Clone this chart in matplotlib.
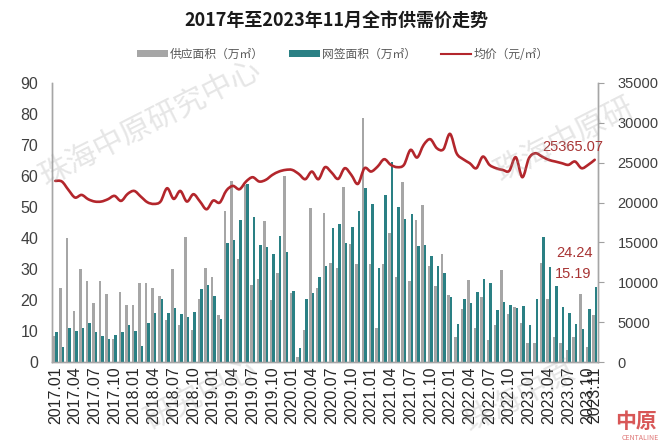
import numpy as np
import matplotlib
matplotlib.use("Agg")
import matplotlib.pyplot as plt
from matplotlib.patches import Patch, PathPatch
from matplotlib.lines import Line2D
from matplotlib.path import Path

plt.rcParams['font.family'] = ['Noto Sans CJK SC', 'DejaVu Sans']

# ---------------- data ----------------
months = [f"{y}.{m:02d}" for y in range(2017, 2024) for m in range(1, 13)][:83]

supply = [8.5, 23.8, 39.9, 16.6, 29.9, 26.2, 19.1, 26.2, 21.8, 7.5,
          22.7, 18.4, 18.4, 25.6, 25.6, 24.0, 21.4, 13.5, 30.1, 11.9,
          40.4, 10.3, 20.2, 30.3, 27.3, 15.2, 48.8, 58.5, 33.1, 57.1,
          24.8, 26.8, 45.6, 20.0, 28.6, 60.0, 22.2, 1.7, 10.3, 49.8,
          24.0, 48.0, 31.8, 30.2, 56.6, 38.1, 31.6, 78.6, 31.5, 10.9,
          31.5, 41.5, 27.5, 58.0, 26.1, 45.8, 50.5, 31.0, 24.5, 34.8,
          21.6, 8.2, 17.0, 26.5, 10.9, 20.9, 7.1, 11.9, 29.7, 15.4,
          17.8, 12.5, 6.2, 6.2, 32.0, 20.3, 8.2, 6.2, 3.9, 8.0,
          21.9, 4.9, 15.19]

signed = [9.6, 4.8, 11.0, 9.9, 11.0, 12.7, 9.6, 8.4, 7.3, 8.7,
          9.6, 11.8, 10.1, 5.2, 12.7, 15.7, 20.2, 15.7, 17.3, 15.5,
          14.4, 16.2, 23.4, 24.8, 21.3, 13.8, 38.3, 39.4, 45.8, 57.4,
          46.7, 37.6, 37.2, 34.7, 40.8, 35.5, 22.9, 4.4, 20.4, 22.2,
          27.3, 31.1, 43.1, 44.4, 38.5, 43.7, 48.8, 56.0, 50.9, 30.2,
          53.9, 64.6, 49.9, 46.0, 47.6, 37.5, 37.7, 34.3, 31.1, 28.8,
          20.9, 12.3, 20.4, 18.9, 22.5, 26.7, 25.6, 16.8, 19.5, 18.4,
          17.5, 18.2, 11.9, 20.2, 40.2, 30.8, 24.6, 17.8, 15.7, 12.3,
          10.5, 17.0, 24.24]

price = [22720, 22640, 21590, 20630, 20960, 20420, 20130, 20130, 20420, 20840,
         20210, 21090, 21460, 20750, 20040, 19830, 20130, 21800, 20460, 21460,
         20130, 21050, 20130, 19160, 20250, 20000, 21500, 22090, 21670, 22640,
         23180, 22640, 22850, 23470, 23890, 24100, 24100, 23600, 22930, 23890,
         22930, 24440, 23770, 22970, 24310, 23470, 22340, 24310, 23890, 24520,
         25440, 24730, 24440, 24730, 26610, 25650, 27240, 27950, 26820, 26690,
         28620, 26190, 25440, 24940, 24310, 25770, 24730, 24310, 24100, 23970,
         25690, 23180, 25560, 26190, 25770, 25360, 25150, 24940, 24730, 25150,
         24310, 24730, 25365.07]

left_ticks = list(range(0, 100, 10))
right_ticks = list(range(0, 40000, 5000))
xtick_idx = list(range(0, 83, 3)) + [82]

# ---------------- style ----------------
GREY = '#a6a6a6'
TEAL = '#2a8084'
RED = '#b3262c'
TXT = '#404040'
ANN = '#a83434'
NUMFONT = ['Liberation Sans', 'DejaVu Sans']

fig = plt.figure(figsize=(6.6, 4.46), dpi=100)
ax = fig.add_axes([52/660, 1-362/446, (598-52)/660, (362-83)/446])
ax2 = ax.twinx()

x = np.arange(len(months))
w = 0.38
ax.bar(x - w/2, supply, width=w, color=GREY, zorder=2)
ax.bar(x + w/2, signed, width=w, color=TEAL, zorder=3)


def smooth_path(xs, ys):
    """Smooth (Catmull-Rom style Bezier) path through the given points."""
    pts = np.column_stack([xs, ys]).astype(float)
    n = len(pts)
    verts = [pts[0]]
    codes = [Path.MOVETO]
    for i in range(n - 1):
        p0 = pts[i - 1] if i > 0 else pts[i]
        p1 = pts[i]
        p2 = pts[i + 1]
        p3 = pts[i + 2] if i + 2 < n else pts[i + 1]
        c1 = p1 + (p2 - p0) / 6.0
        c2 = p2 - (p3 - p1) / 6.0
        verts += [c1, c2, p2]
        codes += [Path.CURVE4] * 3
    return Path(verts, codes)


ax2.add_patch(PathPatch(smooth_path(x, price), fill=False, edgecolor=RED,
                        lw=1.9, zorder=4, capstyle='round', joinstyle='round'))

ax.set_xlim(-0.5, 82.5)
ax.set_ylim(0, 90)
ax2.set_ylim(0, 35000)
ax.set_yticks(left_ticks)
ax2.set_yticks(right_ticks)

ax.set_xticks(xtick_idx)
ax.set_xticklabels([months[i] for i in xtick_idx], rotation=90,
                   fontsize=11.5, family=NUMFONT, color='#262626')
ax.tick_params(axis='x', length=0, pad=3)
ax.tick_params(axis='y', length=0, pad=10, labelsize=11.5, labelcolor=TXT)
for lab in ax.get_yticklabels():
    lab.set_family(NUMFONT)
ax2.tick_params(axis='y', length=4, width=0.8, color='#a0a0a0', pad=10,
                labelsize=10.5, labelcolor=TXT)
for lab in ax2.get_yticklabels():
    lab.set_family(NUMFONT)

for a in (ax, ax2):
    a.spines['top'].set_visible(False)
    for s in ('left', 'right', 'bottom'):
        a.spines[s].set_color('#a6a6a6')
        a.spines[s].set_linewidth(1.0)
ax.patch.set_visible(False)

# annotations
ax2.annotate(f"{price[-1]:.2f}", xy=(x[-1], price[-1]), xytext=(9, 13),
             textcoords='offset pixels', ha='right', va='center',
             fontsize=10.5, color=ANN, family=NUMFONT, zorder=6)
ax.annotate(f"{signed[-1]:.2f}", xy=(x[-1] + w/2, signed[-1]), xytext=(-3, 34),
            textcoords='offset pixels', ha='right', va='center',
            fontsize=10.5, color=ANN, family=NUMFONT, zorder=6)
ax.annotate(f"{supply[-1]:.2f}", xy=(x[-1] - w/2, supply[-1]), xytext=(-2, 41),
            textcoords='offset pixels', ha='right', va='center',
            fontsize=10.5, color=ANN, family=NUMFONT, zorder=6)

# title
fig.text(336/660, 1-20/446, "2017年至2023年11月全市供需价走势", ha='center', va='center',
         fontsize=13, fontweight='bold', color='#1a1a1a')

# legend
handles = [Patch(facecolor=GREY, edgecolor='none'),
           Patch(facecolor=TEAL, edgecolor='none'),
           Line2D([0], [0], color=RED, lw=1.5)]
labels = ["供应面积（万㎡）", "网签面积（万㎡）", "均价（元/㎡）"]
fig.legend(handles, labels, loc='center', bbox_to_anchor=(343/660, 1-54/446), ncol=3,
           frameon=False, fontsize=8.5, labelcolor='#595959', handlelength=2.6,
           handleheight=0.55, handletextpad=0.2, columnspacing=2.1)

# watermarks
wm = dict(color='#9a9a9a', alpha=0.25, fontsize=22, ha='center', va='center', rotation=27, zorder=0)
fig.text(150/660, 1-123/446, "珠海中原研究中心", **wm)
fig.text(565/660, 1-140/446, "珠海中原研", **wm)
fig.text(200/660, 1-395/446, "研究中心", **wm)
fig.text(520/660, 1-397/446, "珠海中原", **wm)
fig.text(636/660, 1-422/446, "中原", color='#d23a3a', fontsize=15, fontweight='bold',
         ha='center', va='center', alpha=0.85)
fig.text(640/660, 1-438/446, "CENTALINE", color='#d23a3a', fontsize=5,
         ha='center', va='center', alpha=0.7)

fig.savefig("out.png", dpi=100)
